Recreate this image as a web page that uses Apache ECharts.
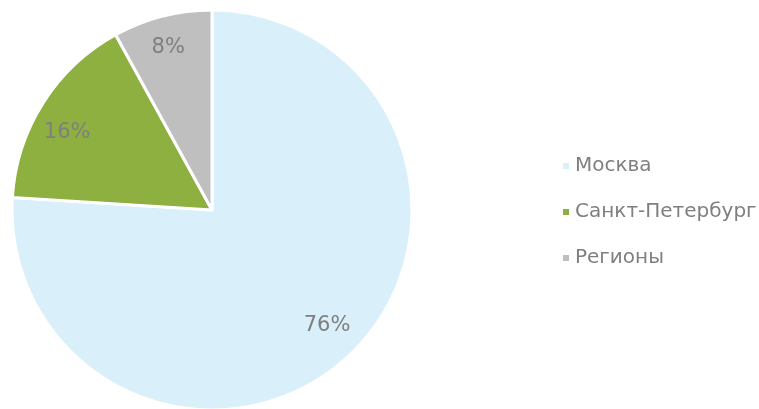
<!DOCTYPE html>
<html><head><meta charset="utf-8">
<script src="https://cdn.jsdelivr.net/npm/echarts@6/dist/echarts.min.js"></script>
<style>html,body{margin:0;padding:0;background:#fff}#c{width:759px;height:409px}</style>
</head><body><div id="c"></div>
<script>
const categories = ['Москва', 'Санкт-Петербург', 'Регионы'];
const values = [76, 16, 8];
const colors = ['#D9EFF9', '#8DB040', '#BFBFBF'];

const data = categories.map((n, i) => ({ name: n, value: values[i], itemStyle: { color: colors[i] } }));
const chart = echarts.init(document.getElementById('c'));
const font = 'DejaVu Sans';
const labelShift = [[0, -7], [-3, 13], [-2, 0]];
chart.setOption({
  animation: false,
  legend: {
    orient: 'vertical', left: 556, top: 151,
    itemWidth: 8, itemHeight: 8, itemGap: 26, icon: 'rect',
    textStyle: { fontFamily: font, fontSize: 20, color: '#7F7F7F' },
    data: categories.map((n, i) => ({ name: n, itemStyle: { color: colors[i] } }))
  },
  series: [{
    type: 'pie', center: [212, 210], radius: [0, 200], startAngle: 90, clockwise: true,
    itemStyle: { borderColor: '#fff', borderWidth: 3 },
    label: { show: false }, labelLine: { show: false },
    data: data
  }, {
    type: 'pie', center: [212, 210], radius: [130, 200], startAngle: 90, clockwise: true, silent: true,
    itemStyle: { color: 'rgba(0,0,0,0)', borderWidth: 0 },
    label: { show: true, position: 'inside', formatter: '{c}%', fontFamily: font, fontSize: 21, color: '#7F7F7F' },
    labelLine: { show: false },
    labelLayout: function (p) { const s = labelShift[p.dataIndex]; return { dx: s[0], dy: s[1] }; },
    data: categories.map((n, i) => ({ name: n + ' ', value: values[i] })),
    legendHoverLink: false
  }]
});
</script></body></html>
